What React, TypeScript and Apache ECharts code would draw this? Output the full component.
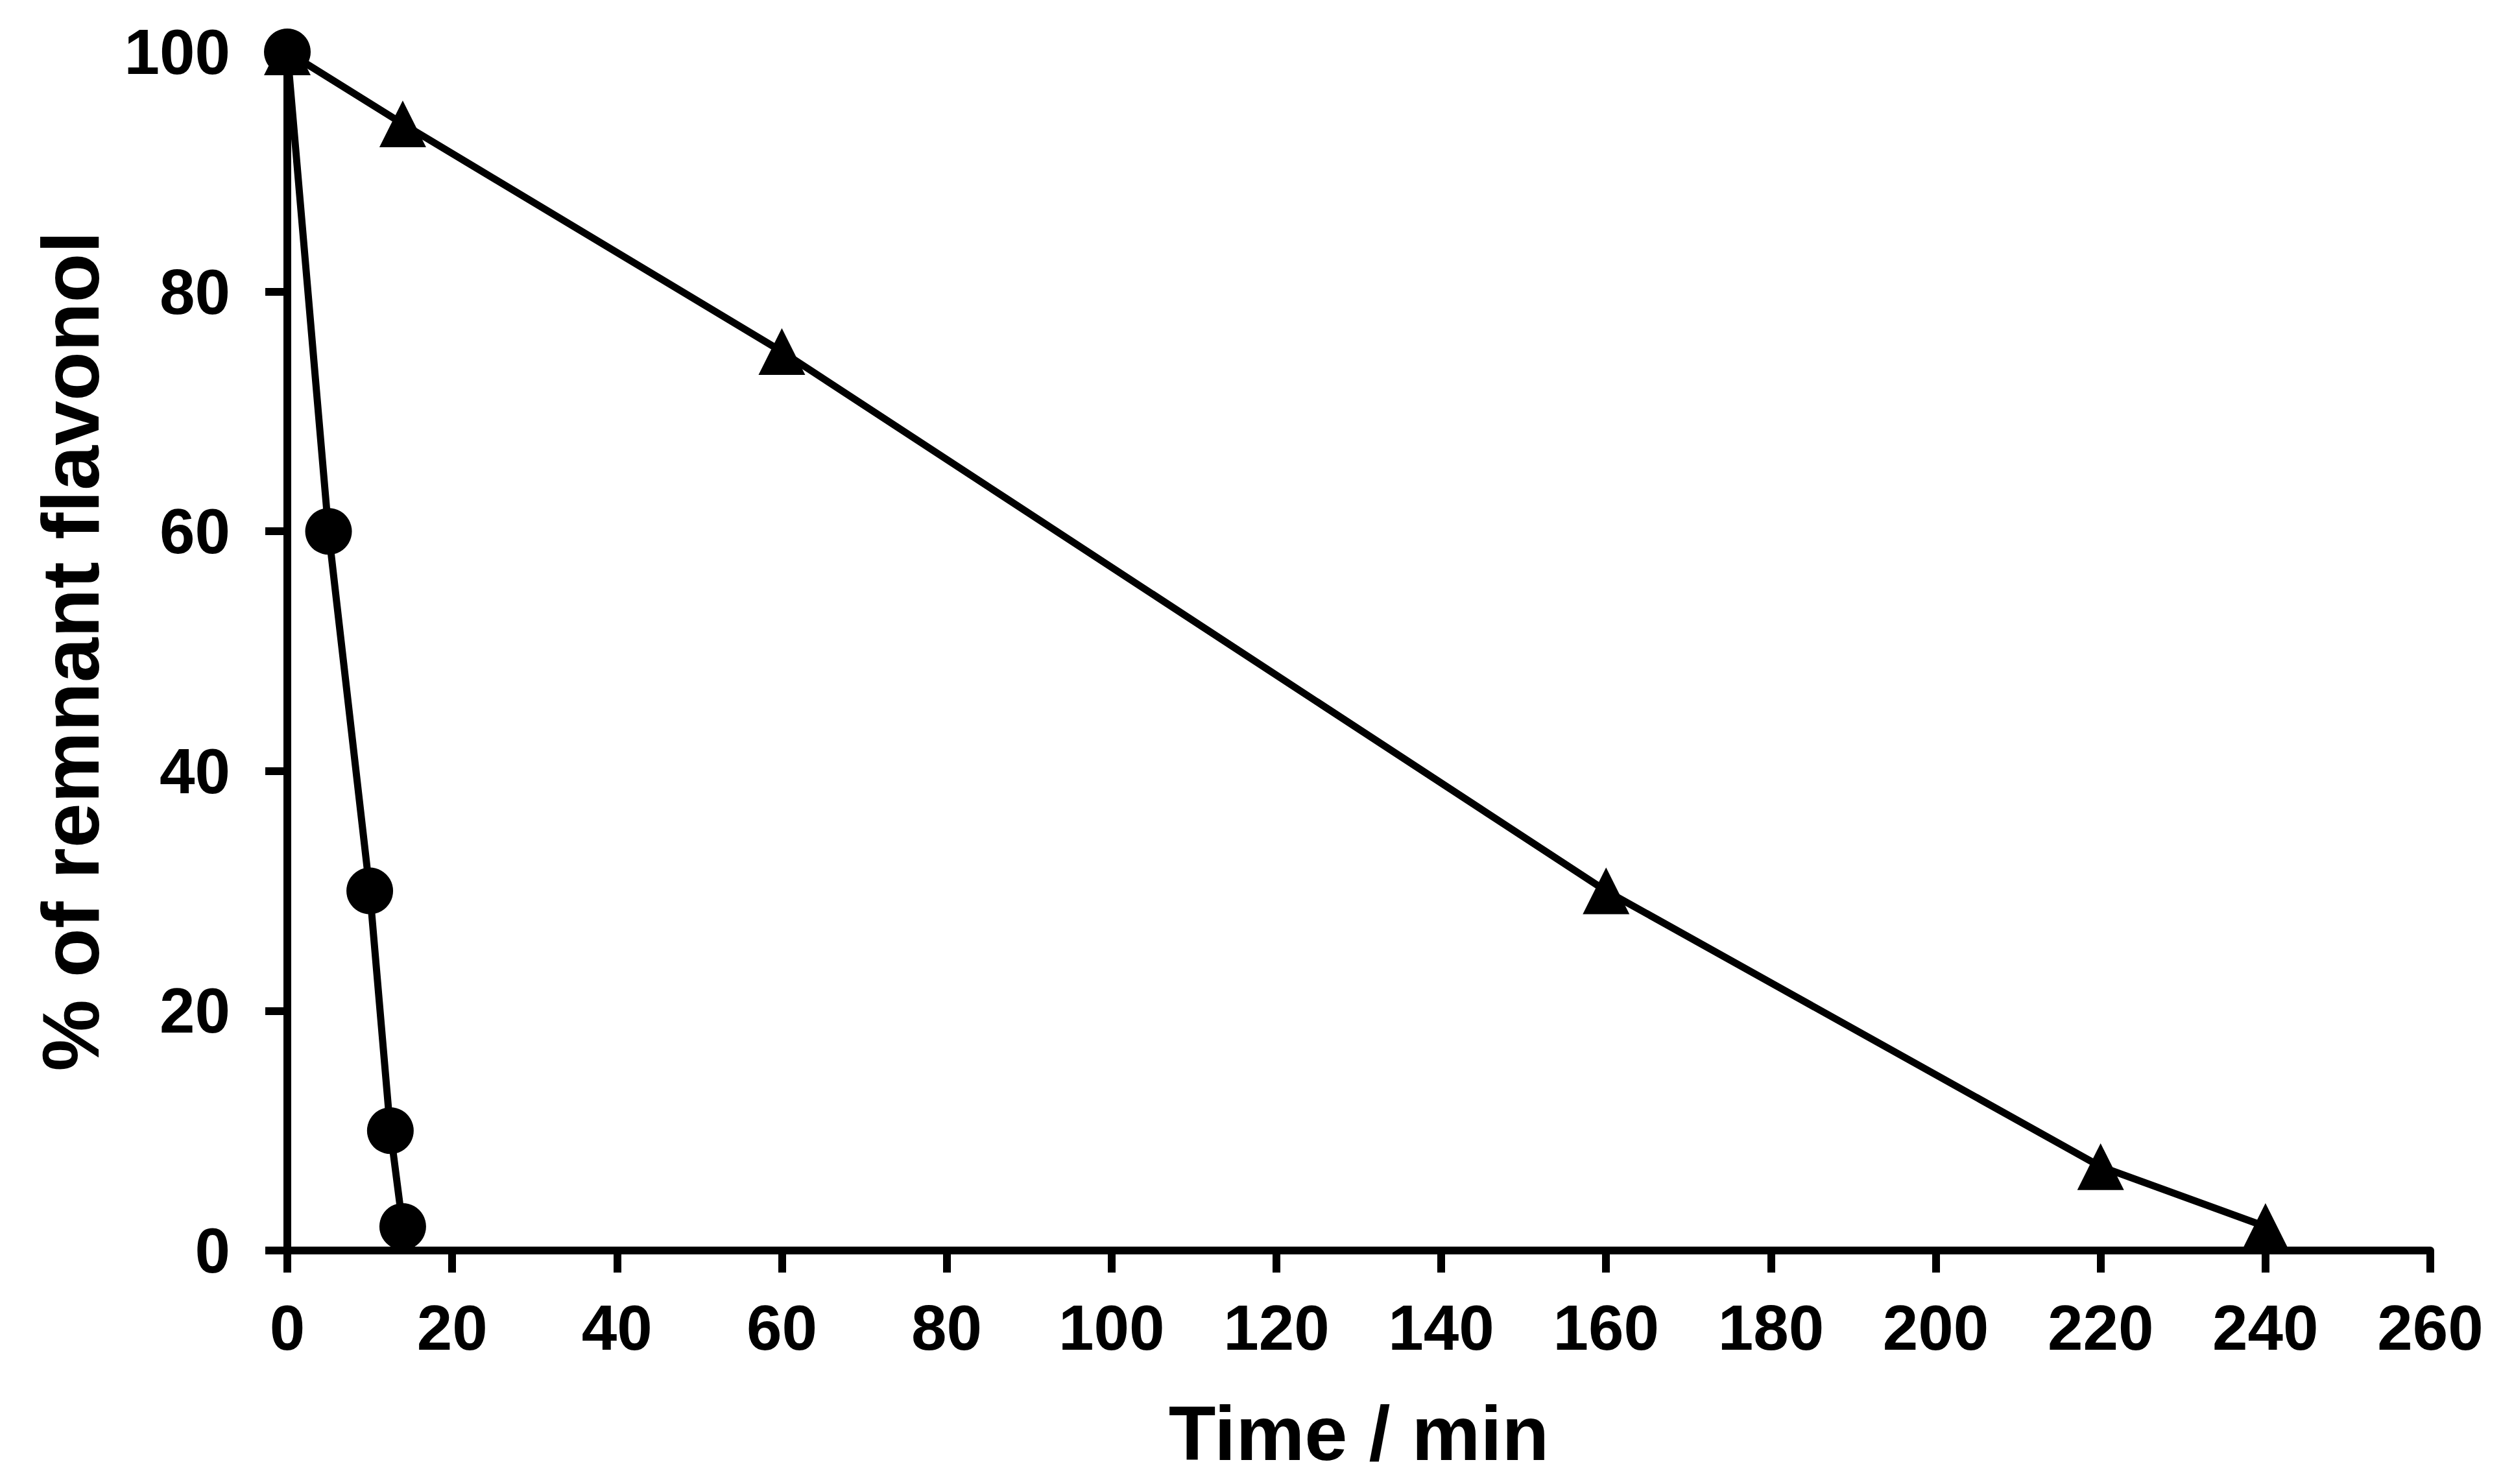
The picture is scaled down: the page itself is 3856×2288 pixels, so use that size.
import { useEffect, useRef } from 'react';
import * as echarts from 'echarts';

// time (min) vs % remaining
const circleTime = [0, 5, 10, 12.5, 14];
const circleValues = [100, 60, 30, 10, 2];
const triangleTime = [0, 14, 60, 160, 220, 240];
const triangleValues = [100, 94, 75, 30, 7, 2];

const xTicks = { min: 0, max: 260, interval: 20 };
const yTicks = { min: 0, max: 100, interval: 20 };

const FONT = '"Liberation Sans", Arial, sans-serif';

export default function App() {
  const chartRef = useRef<HTMLDivElement>(null);

  useEffect(() => {
    if (!chartRef.current) return;
    const chart = echarts.init(chartRef.current, null, { renderer: 'svg' });

    const axisCommon = {
      axisLine: { show: true, lineStyle: { color: '#000', width: 12 } },
      axisTick: { show: true, inside: false, length: 34, lineStyle: { color: '#000', width: 12 } },
      splitLine: { show: false },
      nameLocation: 'middle' as const,
    };
    const labelStyle = { color: '#000', fontSize: 98, fontWeight: 'bold', fontFamily: FONT };

    chart.setOption({
      animation: false,
      backgroundColor: '#fff',
      grid: { left: 443, right: 109, top: 80, bottom: 360 },
      xAxis: {
        type: 'value',
        ...xTicks,
        name: 'Time / min',
        nameGap: 222,
        ...axisCommon,
        nameTextStyle: { color: '#000', fontSize: 119, fontWeight: 'bold', fontFamily: FONT },
        axisLabel: { ...labelStyle, margin: 70 },
      },
      yAxis: {
        type: 'value',
        ...yTicks,
        name: '% of remnant flavonol',
        nameGap: 272,
        ...axisCommon,
        nameTextStyle: { color: '#000', fontSize: 124, fontWeight: 'bold', fontFamily: FONT },
        axisLabel: { ...labelStyle, margin: 88 },
      },
      series: [
        {
          type: 'line',
          data: triangleTime.map((t, i) => [t, triangleValues[i]]),
          symbol: 'triangle',
          symbolSize: 72,
          showAllSymbol: true,
          lineStyle: { color: '#000', width: 11 },
          itemStyle: { color: '#000' },
        },
        {
          type: 'line',
          data: circleTime.map((t, i) => [t, circleValues[i]]),
          symbol: 'circle',
          symbolSize: 72,
          showAllSymbol: true,
          lineStyle: { color: '#000', width: 11 },
          itemStyle: { color: '#000' },
        },
      ],
    });

    return () => chart.dispose();
  }, []);

  return (
    <div
      ref={chartRef}
      style={{ position: 'fixed', left: 0, top: 0, width: 3856, height: 2288 }}
    />
  );
}
